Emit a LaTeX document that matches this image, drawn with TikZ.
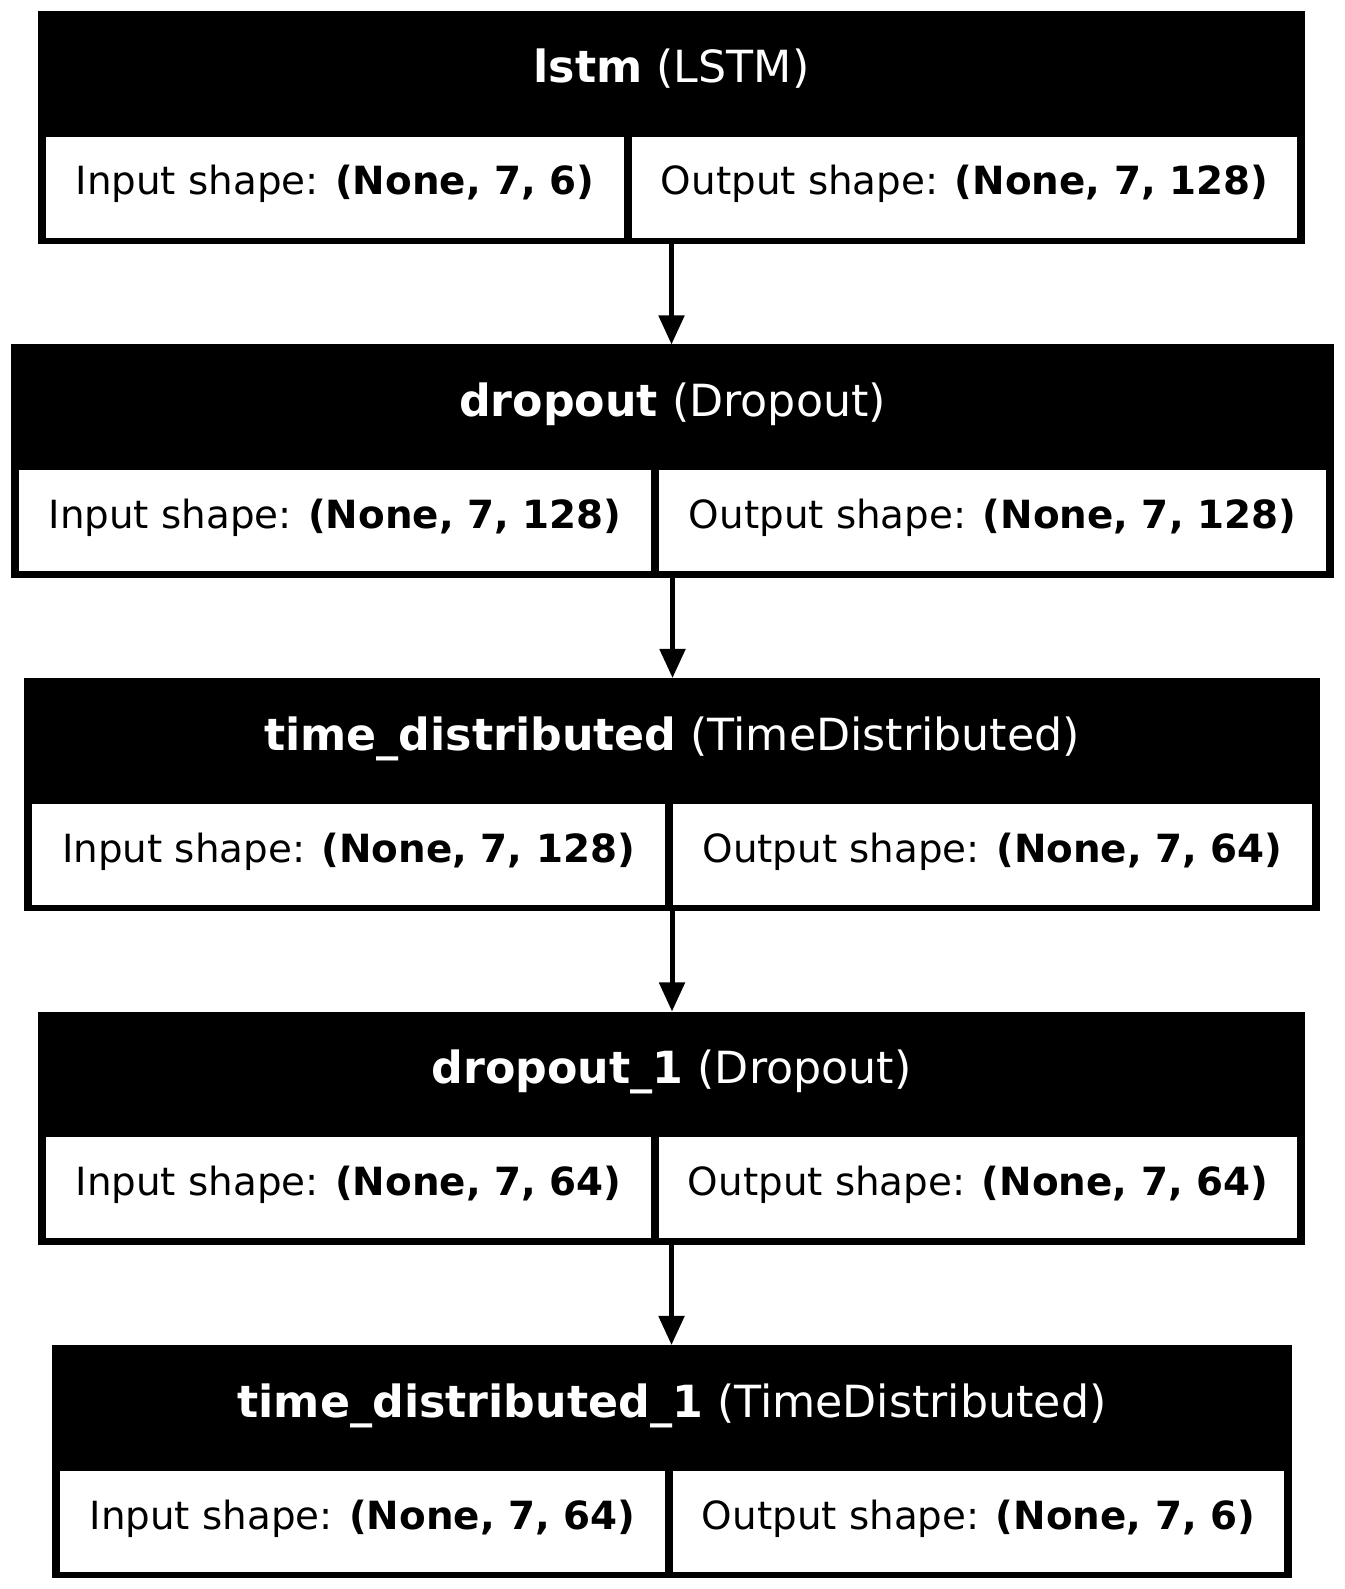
\documentclass[tikz,border=0pt]{standalone}
\usepackage{fontspec}
\setmainfont{DejaVu Sans}
\usetikzlibrary{arrows.meta}

\tikzset{
  layerbg/.style={fill=black, draw=none, inner sep=0pt, outer sep=0pt, minimum height=2.33cm},
  cellbg/.style={fill=white, draw=none, inner sep=0pt, outer sep=0pt, minimum height=1.008cm},
  titletext/.style={anchor=base, inner sep=0pt, text=white, font=\fontsize{12.6}{15}\selectfont},
  celltext/.style={anchor=base, inner sep=0pt, text=black, font=\fontsize{11.04}{13}\selectfont},
  flow/.style={line width=0.05cm, draw=black, -{Triangle[length=0.29cm, width=0.25cm]}},
}

% #1 name, #2 top, #3 left, #4 right, #5 divider, #6 layer name, #7 layer class,
% #8 input shape, #9 output shape
\newcommand\layerbox[9]{%
  \node[layerbg, minimum width={(#4-#3)*0.01cm}, anchor=north west] (#1) at (#3,#2) {};
  \node[cellbg, minimum width={(#5-4-#3-8)*0.01cm}, anchor=north west] (#1in) at (#3+8,#2+125.7) {};
  \node[cellbg, minimum width={(#4-8-#5-4)*0.01cm}, anchor=north west] (#1out) at (#5+4,#2+125.7) {};
  \node[titletext] (#1title) at ({(#3+#4)/2},#2+72) {\textbf{#6} #7};
  \node[celltext] (#1intext) at ({(#3+#5)/2+2},#2+184) {Input shape: \textbf{#8}};
  \node[celltext] (#1outtext) at ({(#5+#4)/2-2},#2+184) {Output shape: \textbf{#9}};
}

\begin{document}
\begin{tikzpicture}[x=0.01cm, y=-0.01cm]
  \useasboundingbox[fill=white] (0,0) rectangle (1344,1589);

  \layerbox{b1}{11}{38}{1305}{628}{lstm}{(LSTM)}{(None, 7, 6)}{(None, 7, 128)}
  \layerbox{b2}{344.5}{11}{1334}{655}{dropout}{(Dropout)}{(None, 7, 128)}{(None, 7, 128)}
  \layerbox{b3}{678}{24}{1320}{669}{time\_distributed}{(TimeDistributed)}{(None, 7, 128)}{(None, 7, 64)}
  \layerbox{b4}{1011.5}{38}{1305}{655}{dropout\_1}{(Dropout)}{(None, 7, 64)}{(None, 7, 64)}
  \layerbox{b5}{1345}{52}{1292}{669}{time\_distributed\_1}{(TimeDistributed)}{(None, 7, 64)}{(None, 7, 6)}

  \draw[flow] (b1.south) -- (b1.south |- b2.north);
  \draw[flow] (b2.south) -- (b2.south |- b3.north);
  \draw[flow] (b3.south) -- (b3.south |- b4.north);
  \draw[flow] (b4.south) -- (b4.south |- b5.north);
\end{tikzpicture}
\end{document}
